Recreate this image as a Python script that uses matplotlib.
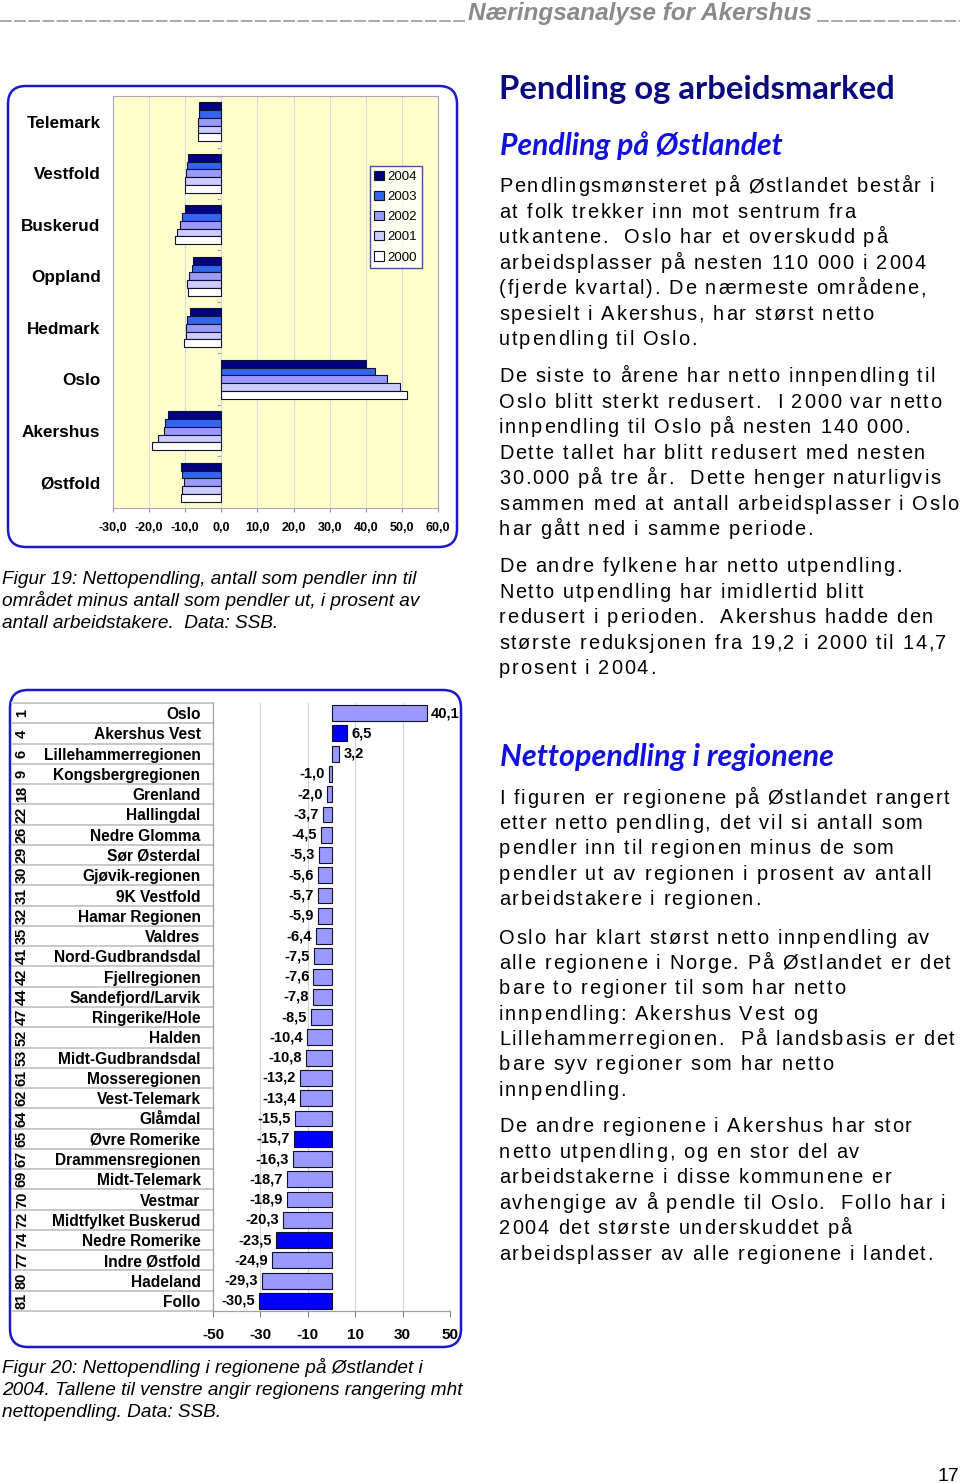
import matplotlib
matplotlib.use("Agg")
import matplotlib.pyplot as plt
from matplotlib.patches import FancyBboxPatch
from matplotlib.transforms import blended_transform_factory
from matplotlib.font_manager import findfont, FontProperties
from matplotlib.ft2font import FT2Font
import numpy as np

# ---------------- data ----------------
counties = ["Telemark", "Vestfold", "Buskerud", "Oppland", "Hedmark", "Oslo", "Akershus", "Østfold"]
years = ["2004", "2003", "2002", "2001", "2000"]
v2004 = [-6.3, -9.2, -10.2, -7.8, -8.7, 40.1, -14.7, -11.3]
v2003 = [-6.2, -9.5, -10.9, -8.0, -9.4, 42.6, -15.6, -10.9]
v2002 = [-6.4, -9.7, -11.4, -9.0, -9.9, 45.9, -16.0, -10.4]
v2001 = [-6.4, -10.0, -12.2, -9.6, -9.9, 49.5, -17.5, -10.9]
v2000 = [-6.5, -10.1, -12.8, -9.3, -10.4, 51.4, -19.2, -11.2]
top_xticks = [-30, -20, -10, 0, 10, 20, 30, 40, 50, 60]

regions = ["Oslo", "Akershus Vest", "Lillehammerregionen", "Kongsbergregionen", "Grenland",
           "Hallingdal", "Nedre Glomma", "Sør Østerdal", "Gjøvik-regionen", "9K Vestfold",
           "Hamar Regionen", "Valdres", "Nord-Gudbrandsdal", "Fjellregionen", "Sandefjord/Larvik",
           "Ringerike/Hole", "Halden", "Midt-Gudbrandsdal", "Mosseregionen", "Vest-Telemark",
           "Glåmdal", "Øvre Romerike", "Drammensregionen", "Midt-Telemark", "Vestmar",
           "Midtfylket Buskerud", "Nedre Romerike", "Indre Østfold", "Hadeland", "Follo"]
ranks = [1, 4, 6, 9, 18, 22, 26, 29, 30, 31, 32, 35, 41, 42, 44, 47, 52, 53, 61, 62,
         64, 65, 67, 69, 70, 72, 74, 77, 80, 81]
netto2004 = [40.1, 6.5, 3.2, -1.0, -2.0, -3.7, -4.5, -5.3, -5.6, -5.7, -5.9, -6.4, -7.5,
             -7.6, -7.8, -8.5, -10.4, -10.8, -13.2, -13.4, -15.5, -15.7, -16.3, -18.7,
             -18.9, -20.3, -23.5, -24.9, -29.3, -30.5]
akershus_regions = ["Akershus Vest", "Øvre Romerike", "Nedre Romerike", "Follo"]
bottom_xticks = [-50, -30, -10, 10, 30, 50]

# ---------------- figure ----------------
W, H = 960, 1483
DPI = 100
fig = plt.figure(figsize=(W / DPI, H / DPI), dpi=DPI)
bg = fig.add_axes([0, 0, 1, 1])
bg.set_xlim(0, W)
bg.set_ylim(H, 0)
bg.axis("off")


def fax(l, t, r, b):
    return fig.add_axes([l / W, 1 - b / H, (r - l) / W, (b - t) / H])


BOXC = "#1a1ac8"
for (l, t, r, b) in [(8, 86, 457, 547), (10, 690, 461, 1347)]:
    bg.add_patch(FancyBboxPatch((l, t), r - l, b - t,
                                boxstyle="round,pad=0,rounding_size=18",
                                fc="none", ec=BOXC, lw=1.8, zorder=5))

LS = "Liberation Sans"

# ---------------- top chart ----------------
ax1 = fax(113, 96, 438, 508)
ax1.set_facecolor("#FFFFCC")
series = [v2004, v2003, v2002, v2001, v2000]
colors = ["#000080", "#3366EE", "#9999FF", "#CCCCFF", "#FFFFFF"]
h = 0.151
yc = np.arange(len(counties))
for k, (vals, c, lab) in enumerate(zip(series, colors, years)):
    ax1.barh(yc + (k - 2) * h, vals, height=h, color=c, edgecolor="#111133",
             linewidth=0.8, label=lab, zorder=3)
ax1.set_xlim(-30, 60)
ax1.set_ylim(len(counties) - 0.5, -0.5)
ax1.set_xticks(top_xticks)
ax1.set_xticklabels([f"{t:.1f}".replace(".", ",") for t in top_xticks],
                    fontsize=9, fontweight="bold", family=LS)
ax1.set_yticks(yc)
ax1.set_yticklabels(counties, fontsize=12.3, fontweight="bold", family=LS)
ax1.tick_params(axis="y", length=0, pad=9)
ax1.tick_params(axis="x", length=3, color="#9090a0", pad=7)
ax1.grid(axis="x", color="#D8D8E0", lw=0.8, zorder=0)
for s in ax1.spines.values():
    s.set_color("#A8A8C0")
    s.set_linewidth(0.8)
# category axis crossing at zero, with tick marks between categories
zax = ax1.secondary_yaxis((0 - ax1.get_xlim()[0]) / (ax1.get_xlim()[1] - ax1.get_xlim()[0]))
zax.set_yticks(np.arange(-0.5, len(counties) + 0.5, 1.0))
zax.set_yticklabels([])
zax.tick_params(axis="y", length=3, width=0.8, color="#A0A0A0", direction="out")
zax.spines["left"].set_visible(False)
leg = ax1.legend(loc="upper left", bbox_to_anchor=(0.79, 0.83), frameon=True,
                 fancybox=False, edgecolor="#202090",
                 prop={"family": LS, "size": 9.5},
                 handlelength=0.7, handleheight=0.7, handletextpad=0.3,
                 labelspacing=0.6, borderpad=0.35, borderaxespad=0)
leg.get_frame().set_linewidth(1.0)

# ---------------- bottom chart ----------------
ax2 = fax(213, 703, 450, 1311)
n = len(regions)
yr = np.arange(n)
bcol = ["#0000FF" if r in akershus_regions else "#9999FF" for r in regions]
ax2.barh(yr, netto2004, height=0.78, color=bcol, edgecolor="#111122", linewidth=0.8, zorder=3)
ax2.set_xlim(-50, 50)
ax2.set_ylim(n - 0.5, -0.5)
ax2.set_xticks(bottom_xticks)
ax2.set_xticklabels([str(t) for t in bottom_xticks], fontsize=11, fontweight="bold", family=LS)
ax2.tick_params(axis="x", length=4, color="#808080", pad=8)
ax2.set_yticks(yr)
ax2.set_yticklabels(regions, fontsize=11.2, fontweight="bold", family=LS)
ax2.tick_params(axis="y", length=0, pad=9)
ax2.grid(axis="x", color="#D0D0D0", lw=0.8, zorder=0)
for side in ["top", "right"]:
    ax2.spines[side].set_visible(False)
for side in ["left", "bottom"]:
    ax2.spines[side].set_color("#A0A0A0")
    ax2.spines[side].set_linewidth(0.9)
for i, v in enumerate(netto2004):
    lab = f"{v:.1f}".replace(".", ",")
    off, ha = (3, "left") if v >= 0 else (-3, "right")
    ax2.annotate(lab, (v, i), xytext=(off, 0), textcoords="offset points",
                 ha=ha, va="center", fontsize=10.5, fontweight="bold",
                 family=LS, zorder=6)
tr = blended_transform_factory(ax2.transAxes, ax2.transData)
x_left = (12 - 213) / 237.0
for b in np.arange(-0.5, n, 1.0):
    ax2.plot([x_left, 0], [b, b], transform=tr, color="#C8C8C8", lw=1.4,
             clip_on=False, zorder=1)
for i, r in enumerate(ranks):
    ax2.text((22 - 213) / 237.0, i, str(r), transform=tr, rotation=90,
             ha="center", va="center", fontsize=10.5, fontweight="bold", family=LS)

# ---------------- text ----------------
renderer = fig.canvas.get_renderer()


def fit(x, y, s, width, **kw):
    t = bg.text(x, y, s, **kw)
    bb = t.get_window_extent(renderer)
    t.set_fontsize(t.get_fontsize() * width / bb.width)
    return t


body_font = FT2Font(findfont(FontProperties(family=LS)))
BODY_PT = 14.4
body_font.set_size(BODY_PT, DPI)


def advances(s):
    return [body_font.load_char(ord(ch)).linearHoriAdvance / 65536.0 for ch in s]


ref_line = "Pendlingsmønsteret på Østlandet består i"
SPACING = (435.0 - sum(advances(ref_line))) / (len(ref_line) - 1)


def spaced(x, y, s):
    xx = x
    for ch, a in zip(s, advances(s)):
        if ch != " ":
            bg.text(xx, y, ch, ha="left", va="baseline", fontsize=BODY_PT,
                    family=LS, color="black")
        xx += a + SPACING


GRAY = "#8a8a8a"
fit(468, 20, "Næringsanalyse for Akershus", 346, ha="left", va="baseline",
    fontsize=14, fontweight="bold", style="italic", color=GRAY, family=LS)
bg.plot([0, 466], [21, 21], color="#9a9a9a", lw=1.2, ls=(0, (7, 1.5)))
bg.plot([817, 960], [21, 21], color="#9a9a9a", lw=1.2, ls=(0, (7, 1.5)))

fit(499, 99, "Pendling og arbeidsmarked", 396, ha="left", va="baseline",
    fontsize=22, fontweight="bold", color="#0a0a80", family="Lato")
fit(500, 155.5, "Pendling på Østlandet", 283, ha="left", va="baseline",
    fontsize=18, fontweight="bold", style="italic", color="#1010E0", family="Lato")
fit(500, 766, "Nettopendling i regionene", 334, ha="left", va="baseline",
    fontsize=18, fontweight="bold", style="italic", color="#1010E0", family="Lato")

paras = [
    (192.5, ["Pendlingsmønsteret på Østlandet består i",
             "at folk trekker inn mot sentrum fra",
             "utkantene.  Oslo har et overskudd på",
             "arbeidsplasser på nesten 110 000 i 2004",
             "(fjerde kvartal). De nærmeste områdene,",
             "spesielt i Akershus, har størst netto",
             "utpendling til Oslo."]),
    (382.5, ["De siste to årene har netto innpendling til",
             "Oslo blitt sterkt redusert.  I 2000 var netto",
             "innpendling til Oslo på nesten 140 000.",
             "Dette tallet har blitt redusert med nesten",
             "30.000 på tre år.  Dette henger naturligvis",
             "sammen med at antall arbeidsplasser i Oslo",
             "har gått ned i samme periode."]),
    (572.5, ["De andre fylkene har netto utpendling.",
             "Netto utpendling har imidlertid blitt",
             "redusert i perioden.  Akershus hadde den",
             "største reduksjonen fra 19,2 i 2000 til 14,7",
             "prosent i 2004."]),
    (803.5, ["I figuren er regionene på Østlandet rangert",
             "etter netto pendling, det vil si antall som",
             "pendler inn til regionen minus de som",
             "pendler ut av regionen i prosent av antall",
             "arbeidstakere i regionen."]),
    (943.5, ["Oslo har klart størst netto innpendling av",
             "alle regionene i Norge. På Østlandet er det",
             "bare to regioner til som har netto",
             "innpendling: Akershus Vest og",
             "Lillehammerregionen.  På landsbasis er det",
             "bare syv regioner som har netto",
             "innpendling."]),
    (1132.5, ["De andre regionene i Akershus har stor",
              "netto utpendling, og en stor del av",
              "arbeidstakerne i disse kommunene er",
              "avhengige av å pendle til Oslo.  Follo har i",
              "2004 det største underskuddet på",
              "arbeidsplasser av alle regionene i landet."]),
]
for y0, lines in paras:
    for k, line in enumerate(lines):
        spaced(499, y0 + k * 25.4, line)

cap_kw = dict(ha="left", va="baseline", fontsize=13.7, style="italic", family=LS, color="black")
for k, line in enumerate(["Figur 19: Nettopendling, antall som pendler inn til",
                          "området minus antall som pendler ut, i prosent av",
                          "antall arbeidstakere.  Data: SSB."]):
    bg.text(2, 584 + 22 * k, line, **cap_kw)
for k, line in enumerate(["Figur 20: Nettopendling i regionene på Østlandet i",
                          "2004. Tallene til venstre angir regionens rangering mht",
                          "nettopendling. Data: SSB."]):
    bg.text(2, 1373 + 22 * k, line, **cap_kw)

bg.text(959, 1481, "17", ha="right", va="baseline", fontsize=14, family=LS)

fig.savefig("out.png", dpi=DPI)
